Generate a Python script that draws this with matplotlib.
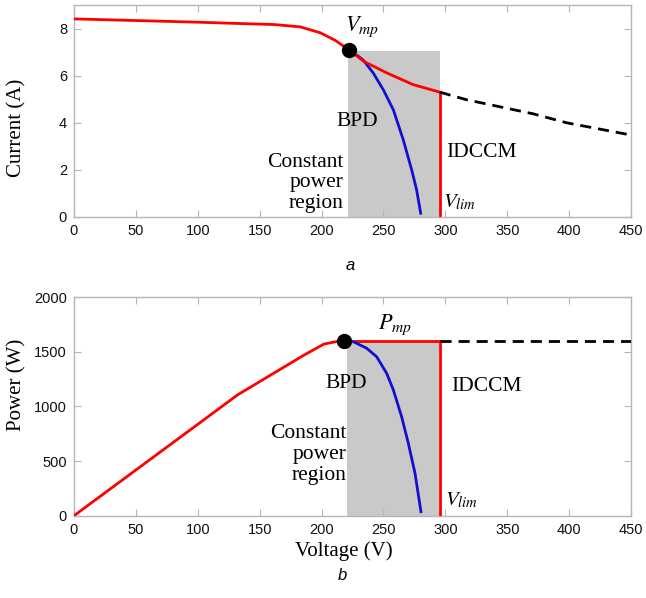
import matplotlib
matplotlib.use("Agg")
import matplotlib.pyplot as plt

# ---- data ----
# (a) current vs voltage
iv_v = [0, 100, 130, 162, 183, 199, 211, 222]
iv_i = [8.41, 8.27, 8.22, 8.17, 8.07, 7.82, 7.50, 7.10]
iv_after_v = [222, 234, 253, 274, 295.5]
iv_after_i = [7.10, 6.61, 6.11, 5.62, 5.30]
idccm_v = 295.5
iv_dash_v = [295.5, 317, 371, 398, 449, 450]
iv_dash_i = [5.30, 4.98, 4.38, 4.00, 3.49, 3.48]
bpd_iv_v = [229, 233.7, 241.8, 249.9, 258, 266, 272.8, 276.8, 280.1]
bpd_iv_i = [6.85, 6.66, 6.11, 5.40, 4.55, 3.28, 2.00, 1.15, 0.16]
vmp_a, imp_a = 222, 7.10
rect_a = (221.5, 295.7, 7.06)

# (b) power vs voltage
pv_v = [0, 50, 100, 132, 160, 186, 202, 212, 218]
pv_p = [0, 418, 836, 1104, 1294, 1470, 1570, 1592, 1600]
pmp = 1600
vmp_b = 218
pv_dash_v = [295.5, 450]
bpd_pv_v = [218, 225.7, 236.5, 244.5, 252.6, 258, 264.7, 270.1, 275.5, 280.3]
bpd_pv_p = [1600, 1591, 1531, 1454, 1302, 1150, 905, 662, 388, 37]
rect_b = (220.7, 295.0, 1600)

xticks = [0, 50, 100, 150, 200, 250, 300, 350, 400, 450]

serif = ['Liberation Serif', 'DejaVu Serif']
sans = ['Liberation Sans', 'DejaVu Sans']
plt.rcParams['font.family'] = sans

fig = plt.figure(figsize=(6.46, 5.98), dpi=100)
axa = fig.add_axes([74/646, 1-217/598, 557/646, 212/598])
axb = fig.add_axes([74/646, 1-515.7/598, 557/646, 218.7/598])

red = '#ff0000'
blue = '#1010d0'
gray_fill = '#c9c9c9'

def style(ax):
    for s in ax.spines.values():
        s.set_color('#b5b5b5')
        s.set_linewidth(1.0)
    ax.tick_params(direction='in', length=5, width=0.8, color='#b5b5b5',
                   top=True, right=True, labelsize=10.5, labelcolor='#111111', pad=5)
    ax.set_xlim(0, 450)
    ax.set_xticks(xticks)

# ---- (a) ----
ax = axa
style(ax)
ax.set_ylim(0, 9)
ax.set_yticks([0, 2, 4, 6, 8])
ax.fill_between([rect_a[0], rect_a[1]], 0, rect_a[2], color=gray_fill, lw=0, zorder=1)
ax.plot(iv_v, iv_i, color=red, lw=2, zorder=3)
ax.plot(iv_after_v, iv_after_i, color=red, lw=2, zorder=3)
ax.plot([idccm_v, idccm_v], [iv_after_i[-1], 0.1], color=red, lw=2, zorder=3)
ax.plot(iv_dash_v, iv_dash_i, color='black', lw=2, ls=(0, (4, 2.5)), zorder=3)
ax.plot(bpd_iv_v, bpd_iv_i, color=blue, lw=2, zorder=2.5)
ax.plot([vmp_a], [imp_a], 'o', color='black', ms=10, zorder=5)
ax.text(219, 7.55, r'$V_{mp}$', fontsize=16, ha='left', va='bottom', zorder=6,
        math_fontfamily='stix')
ax.text(229, 4.06, 'BPD', fontsize=15.5, family=serif, ha='center', va='center')
ax.text(301, 2.72, 'IDCCM', fontsize=15.5, family=serif, ha='left', va='center')
ax.text(217.5, 1.45, 'Constant\npower\nregion', fontsize=15.5, family=serif,
        ha='right', va='center', linespacing=1.12)
ax.text(298, 0.2, r'$V_{lim}$', fontsize=15, ha='left', va='bottom',
        math_fontfamily='stix')
ax.set_ylabel('Current (A)', fontsize=15, family=serif)
ax.yaxis.set_label_coords(-0.085, 0.42)

# ---- (b) ----
ax = axb
style(ax)
ax.set_ylim(0, 2000)
ax.set_yticks([0, 500, 1000, 1500, 2000])
ax.fill_between([rect_b[0], rect_b[1]], 0, rect_b[2], color=gray_fill, lw=0, zorder=1)
ax.plot(pv_v, pv_p, color=red, lw=2, zorder=3)
ax.plot([vmp_b, idccm_v], [pmp, pmp], color=red, lw=2, zorder=3)
ax.plot([idccm_v, idccm_v], [pmp, 0], color=red, lw=2, zorder=3)
ax.plot(pv_dash_v, [pmp, pmp], color='black', lw=2, ls=(0, (4, 2.5)), zorder=3)
ax.plot(bpd_pv_v, bpd_pv_p, color=blue, lw=2, zorder=4)
ax.plot([vmp_b], [pmp], 'o', color='black', ms=10, zorder=5)
ax.text(259, 1744, r'$P_{mp}$', fontsize=16, ha='center', va='center',
        math_fontfamily='stix')
ax.text(219.7, 1213, 'BPD', fontsize=15.5, family=serif, ha='center', va='center')
ax.text(305, 1177, 'IDCCM', fontsize=15.5, family=serif, ha='left', va='center')
ax.text(220, 560, 'Constant\npower\nregion', fontsize=15.5, family=serif,
        ha='right', va='center', linespacing=1.12)
ax.text(300, 50, r'$V_{lim}$', fontsize=15, ha='left', va='bottom',
        math_fontfamily='stix')
ax.set_ylabel('Power (W)', fontsize=15, family=serif)
ax.yaxis.set_label_coords(-0.085, 0.6)
ax.set_xlabel('Voltage (V)', fontsize=15, family=serif)
ax.xaxis.set_label_coords(0.485, -0.118)

fig.text(350/646, 1-265/598, 'a', fontsize=12, style='italic', ha='center', va='center')
fig.text(342/646, 1-575/598, 'b', fontsize=12, style='italic', ha='center', va='center')

fig.savefig('out.png', dpi=100)
